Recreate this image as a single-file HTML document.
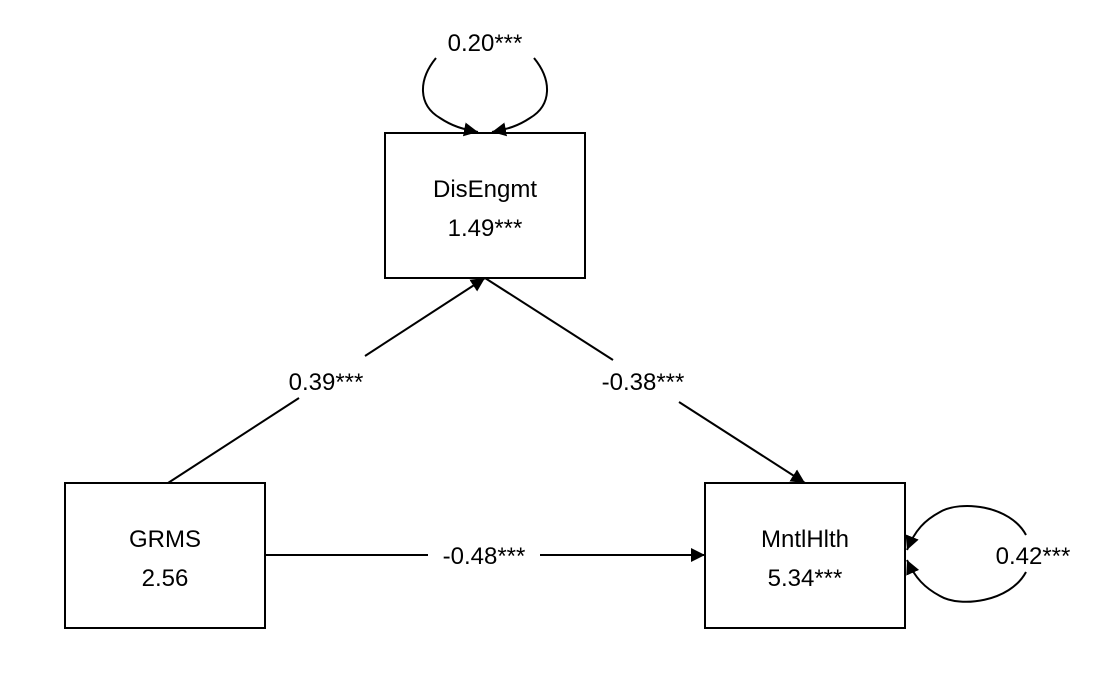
<!DOCTYPE html>
<html><head><meta charset="utf-8"><style>
html,body{margin:0;padding:0;background:#fff;}
svg{display:block;}
text{font-family:"Liberation Sans",Arial,sans-serif;font-size:24px;fill:#000;}
</style></head><body>
<svg width="1093" height="675" viewBox="0 0 1093 675" xmlns="http://www.w3.org/2000/svg">
<defs>
<marker id="a" viewBox="0 0 10 10" refX="10" refY="5" markerWidth="14" markerHeight="14" markerUnits="userSpaceOnUse" orient="auto">
<path d="M0,0 L10,5 L0,10 z" fill="#000"/></marker>
</defs>
<g fill="none" stroke="#000" stroke-width="2">
<rect x="385" y="133" width="200" height="145"/>
<rect x="65" y="483" width="200" height="145"/>
<rect x="705" y="483" width="200" height="145"/>
<path d="M168,483 L299,398"/>
<path d="M365,356 L485,278" marker-end="url(#a)"/>
<path d="M485,278 L613,360"/>
<path d="M679,402 L805,483" marker-end="url(#a)"/>
<path d="M265,555 L428,555"/>
<path d="M540,555 L705,555" marker-end="url(#a)"/>
<path d="M436,58 C418,80 418,105 440,118 C452,126 462,129 478,132" marker-end="url(#a)"/>
<path d="M534,58 C552,80 552,105 530,118 C518,126 508,129 492,132" marker-end="url(#a)"/>
<path d="M1026,535 C1010,505 960,500 940,512 C925,520 915,530 907,550" marker-end="url(#a)"/>
<path d="M1026,572 C1010,602 960,608 940,596 C925,588 915,578 907,560" marker-end="url(#a)"/>
</g>
<g text-anchor="middle">
<text x="485" y="51">0.20***</text>
<text x="485" y="197">DisEngmt</text>
<text x="485" y="236">1.49***</text>
<text x="165" y="547">GRMS</text>
<text x="165" y="586">2.56</text>
<text x="805" y="547">MntlHlth</text>
<text x="805" y="586">5.34***</text>
<text x="326" y="390">0.39***</text>
<text x="643" y="390">-0.38***</text>
<text x="484" y="564">-0.48***</text>
<text x="1033" y="564">0.42***</text>
</g>
</svg>
</body></html>
